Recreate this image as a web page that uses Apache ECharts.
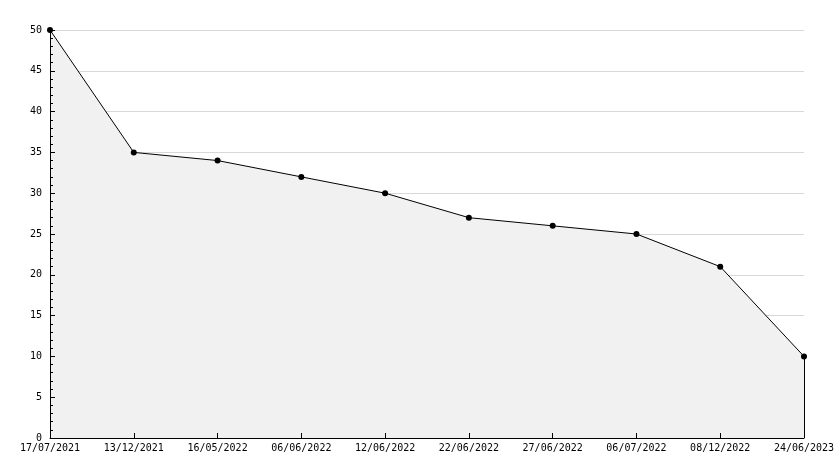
<!DOCTYPE html>
<html><head><meta charset="utf-8">
<script src="https://cdn.jsdelivr.net/npm/echarts@6/dist/echarts.min.js"></script>
<style>html,body{margin:0;padding:0;background:#fff}#c{width:834px;height:468px}</style>
</head><body><div id="c"></div>
<script>
const categories = ['17/07/2021','13/12/2021','16/05/2022','06/06/2022','12/06/2022','22/06/2022','27/06/2022','06/07/2022','08/12/2022','24/06/2023'];
const values = [50, 35, 34, 32, 30, 27, 26, 25, 21, 10];
const yMin = 0, yMax = 50, yStep = 5;
const font = 'DejaVu Sans Mono';
const chart = echarts.init(document.getElementById('c'), null, {renderer:'canvas'});
const last = categories.length - 1;
chart.setOption({
  animation:false,
  grid:{left:50,right:30,top:30,bottom:30,containLabel:false,outerBoundsMode:'none'},
  xAxis:{type:'category',data:categories,boundaryGap:false,z:5,
    axisLine:{show:true,onZero:false,lineStyle:{color:'#000',width:1}},
    axisTick:{show:true,inside:true,length:5,lineStyle:{color:'#000'}},
    axisLabel:{color:'#000',fontFamily:font,fontSize:10,margin:5,interval:0},
    splitLine:{show:false}},
  yAxis:[{type:'value',min:yMin,max:yMax,interval:yStep,z:5,
    axisLine:{show:true,lineStyle:{color:'#000',width:1}},
    axisTick:{show:true,inside:true,length:5,lineStyle:{color:'#000'}},
    minorTick:{show:true,splitNumber:5,length:3,lineStyle:{color:'#000'}},
    axisLabel:{color:'#000',fontFamily:font,fontSize:10,margin:8},
    splitLine:{show:false}},
   {type:'value',min:yMin,max:yMax,interval:yStep,z:0,position:'left',
    axisLine:{show:false},axisTick:{show:false},axisLabel:{show:false},
    splitLine:{show:true,lineStyle:{color:'#d8d8d8',width:1}}}],
  series:[
   {type:'line',data:values,symbol:'none',z:1,yAxisIndex:0,
    lineStyle:{width:0,opacity:0},
    areaStyle:{color:'#f1f1f1',opacity:1},silent:true},
   {type:'line',data:values,symbol:'circle',symbolSize:6,z:10,yAxisIndex:0,
    itemStyle:{color:'#000'},lineStyle:{color:'#000',width:1},
    markLine:{symbol:'none',silent:true,label:{show:false},lineStyle:{color:'#000',width:1,type:'solid'},
      data:[[{coord:[categories[last],yMin]},{coord:[categories[last],values[last]]}]]}
   }]
});
</script></body></html>
